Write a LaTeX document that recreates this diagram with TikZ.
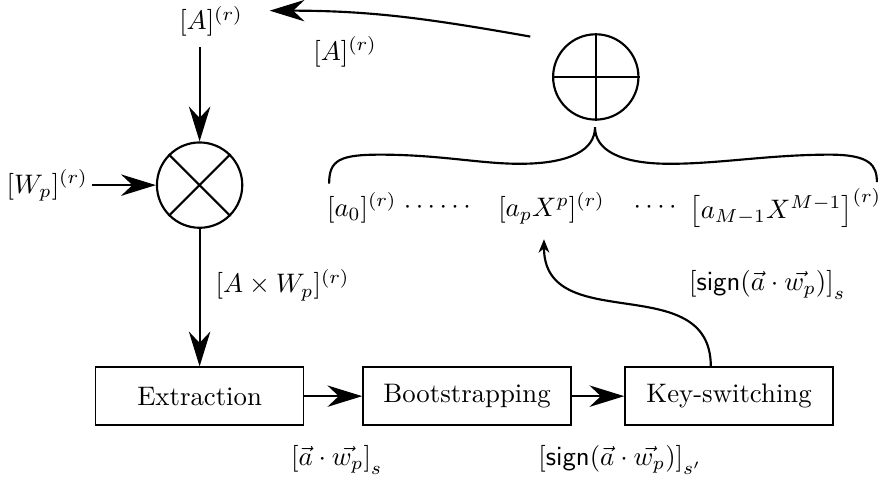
\documentclass[tikz,border=0pt]{standalone}
\usepackage{amsmath,amssymb}
\usetikzlibrary{arrows.meta,calc}
\tikzset{>={Stealth[length=13pt,width=8pt]},every node/.style={font=\normalsize},
  flow/.style={thick,->},edge/.style={thick},
  block/.style={draw,semithick,minimum width=2.73cm,minimum height=.76cm},
  opnode/.style={draw,thick,circle,inner sep=0pt,minimum size=1.12cm}}
\newcommand{\sgn}{\mathsf{sign}}

\begin{document}
\begin{tikzpicture}
\useasboundingbox (0,0) rectangle (11.59,-6.36);
% operators
\node[opnode] (mul) at (2.62,-2.43){};
\draw[edge] (mul.north west)--(mul.south east) (mul.north east)--(mul.south west);
\node[opnode] (add) at (7.82,-1.01){};
\draw[edge] (add.north)--(add.south) (add.west)--(add.east);
% inputs
\node (Atop) at (2.77,-0.28){$[A]^{(r)}$};
\node (Wp) at (0.62,-2.43){$[W_p]^{(r)}$};
\coordinate (Abot) at (2.62,-0.62);
\coordinate (Wr) at (1.21,-2.43);
\draw[flow] (Abot)--(mul.north);
\draw[flow] (Wr)--(mul.west);
% blocks
\node[block] (ext) at (2.62,-5.20){Extraction};
\node[block] (boot) at (6.13,-5.20){Bootstrapping};
\node[block] (key) at (9.57,-5.20){Key-switching};
\draw[flow] (mul.south)--(ext.north);
\draw[flow] (ext)--(boot);
\draw[flow] (boot)--(key);
\node at (3.71,-3.74){$[A\times W_p]^{(r)}$};
\node at (4.42,-6.04){$\left[\vec a\cdot\vec{w_p}\right]_s$};
\node at (8.14,-6.04){$\left[\sgn(\vec a\cdot\vec{w_p})\right]_{s'}$};
% coefficients
\node (a0) at (4.75,-2.73){$[a_0]^{(r)}$};
\node at (5.77,-2.73){$\cdots\cdots$};
\node (ap) at (7.24,-2.73){$[a_pX^p]^{(r)}$};
\node at (8.60,-2.73){$\cdots\cdot$};
\node (aM) at (10.31,-2.73){$\left[a_{M-1}X^{M-1}\right]^{(r)}$};
\draw[edge] (4.32,-2.41) .. controls (4.32,-2.10) and (4.46,-2.03) .. (4.99,-2.03)
  .. controls (5.77,-2.03) and (6.30,-2.15) .. (6.82,-2.15)
  .. controls (7.48,-2.15) and (7.81,-1.97) .. (7.81,-1.67)
  .. controls (7.81,-1.97) and (8.14,-2.15) .. (8.79,-2.15)
  .. controls (9.45,-2.15) and (10.10,-2.03) .. (10.89,-2.03)
  .. controls (11.42,-2.03) and (11.51,-2.17) .. (11.51,-2.39);
\draw[thick,-{Stealth[length=5pt,width=4pt]}] ([xshift=-.24cm]key.north) to[out=90,in=-90,looseness=1.2] ([xshift=-.1cm,yshift=-.08cm]ap.south);
\node at (10.07,-3.74){$\left[\sgn(\vec a\cdot\vec{w_p})\right]_s$};
% result
\coordinate (Astart) at (6.96,-0.48);
\coordinate (Aend) at (3.54,-0.14);
\draw[flow] (Astart) to[out=170,in=0] (Aend);
\node at (4.53,-0.68){$[A]^{(r)}$};
\end{tikzpicture}
\end{document}
